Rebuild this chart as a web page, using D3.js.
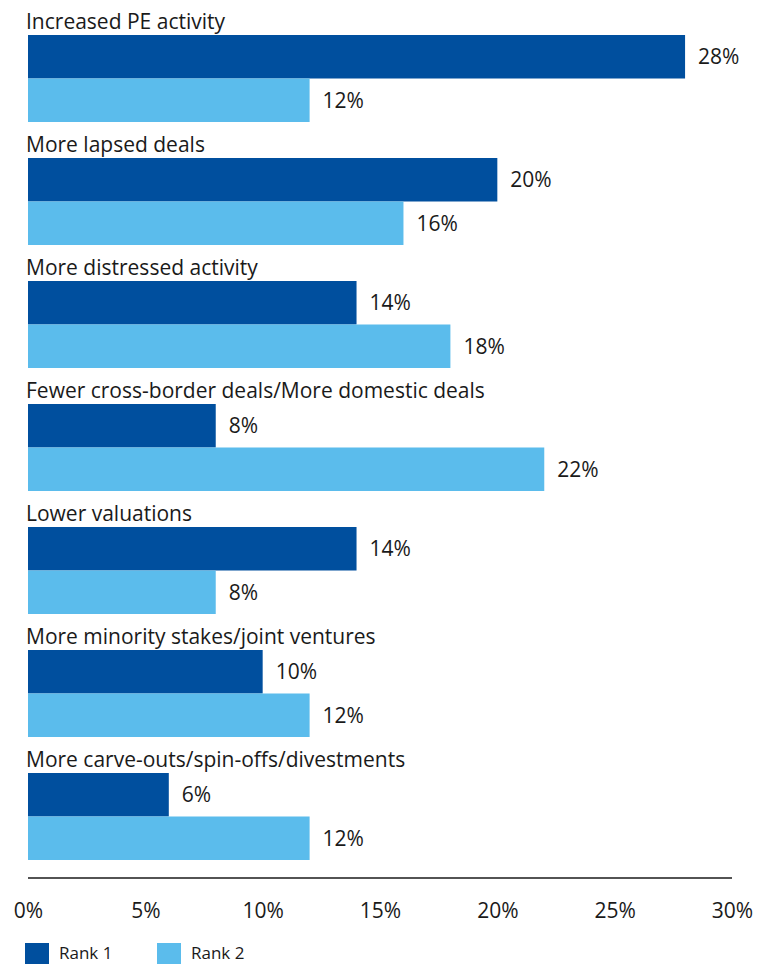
<!DOCTYPE html>
<html>
<head>
<meta charset="utf-8">
<script src="https://cdn.jsdelivr.net/npm/d3@7"></script>
<style>
  html, body { margin: 0; padding: 0; background: #fff; }
  svg text { font-family: "Open Sans", "Noto Sans", sans-serif; fill: #1a1a1a; }
</style>
</head>
<body>
<svg id="chart" width="768" height="964"></svg>
<script>
// Survey answers: share of respondents ranking each outcome first or second
const categories = [
  "Increased PE activity",
  "More lapsed deals",
  "More distressed activity",
  "Fewer cross-border deals/More domestic deals",
  "Lower valuations",
  "More minority stakes/joint ventures",
  "More carve-outs/spin-offs/divestments"
];
const seriesNames = ["Rank 1", "Rank 2"];
const rank1 = [28, 20, 14, 8, 14, 10, 6];
const rank2 = [12, 16, 18, 22, 8, 12, 12];
const xTicks = [0, 5, 10, 15, 20, 25, 30];
const colors = ["#004f9e", "#5bbcec"];

const rows = categories.map((c, i) => ({ category: c, values: [rank1[i], rank2[i]] }));

const svg = d3.select("#chart");

const x = d3.scaleLinear().domain([0, 30]).range([28, 732]);

const y = d3.scaleBand()
  .domain(categories)
  .range([35, 860])
  .paddingInner(36 / 123)
  .paddingOuter(0);

const ySeries = d3.scaleBand()
  .domain(seriesNames)
  .range([0, y.bandwidth()])
  .padding(0);

const color = d3.scaleOrdinal().domain(seriesNames).range(colors);

const groups = svg.append("g")
  .selectAll("g.group")
  .data(rows)
  .join("g")
  .attr("class", "group")
  .attr("transform", d => `translate(0,${y(d.category)})`);

// Category label above each pair of bars
groups.append("text")
  .attr("x", 26)
  .attr("y", -6)
  .attr("font-size", 21)
  .text(d => d.category);

const bars = groups.selectAll("g.bar")
  .data(d => d.values.map((v, j) => ({ series: seriesNames[j], value: v })))
  .join("g")
  .attr("class", "bar");

bars.append("rect")
  .attr("x", x(0))
  .attr("y", d => ySeries(d.series))
  .attr("width", d => x(d.value) - x(0))
  .attr("height", ySeries.bandwidth())
  .attr("fill", d => color(d.series));

bars.append("text")
  .attr("x", d => x(d.value) + 13)
  .attr("y", d => ySeries(d.series) + ySeries.bandwidth() / 2)
  .attr("dy", "0.35em")
  .attr("font-size", 21)
  .text(d => d.value + "%");

// Bottom axis: baseline rule with percentage ticks
const axis = d3.axisBottom(x)
  .tickValues(xTicks)
  .tickFormat(d => d + "%")
  .tickSize(0)
  .tickPadding(0);

const axisG = svg.append("g")
  .attr("transform", "translate(0,878)")
  .call(axis);

axisG.select(".domain")
  .attr("stroke", "#1a1a1a")
  .attr("stroke-width", 1.5)
  .attr("d", `M${x(0)},0H${x(30)}`);

axisG.selectAll(".tick text")
  .attr("y", 40)
  .attr("dy", 0)
  .attr("font-size", 21)
  .attr("font-family", null)
  .attr("fill", "#1a1a1a");

axisG.attr("font-family", null).attr("font-size", null);

// Legend
const legend = svg.append("g").attr("transform", "translate(25,943)");
const legendItems = legend.selectAll("g")
  .data(seriesNames)
  .join("g")
  .attr("transform", (d, i) => `translate(${i * 132},0)`);

legendItems.append("rect")
  .attr("width", 24)
  .attr("height", 21)
  .attr("fill", d => color(d));

legendItems.append("text")
  .attr("x", 34)
  .attr("y", 16)
  .attr("font-size", 17)
  .text(d => d);
</script>
</body>
</html>
